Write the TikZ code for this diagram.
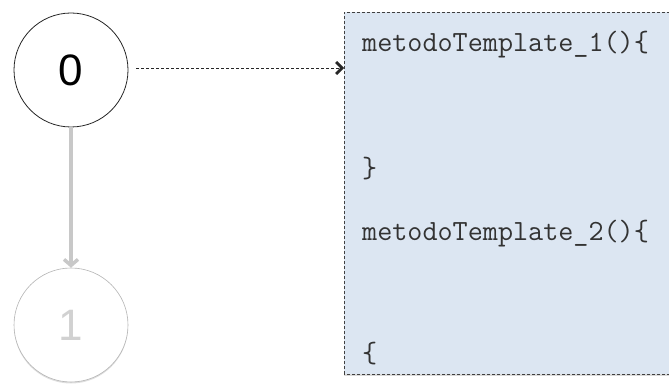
\documentclass[tikz,border=0pt]{standalone}
\usepackage{fontspec}
\setmainfont{Liberation Sans}
\usetikzlibrary{arrows.meta,shadows,calc}
\definecolor{boxfill}{HTML}{DCE6F2}
\definecolor{stepgray}{HTML}{C8C8C8}
\definecolor{fadedgray}{HTML}{B4B4B4}
\tikzset{
  state/.style={circle, minimum size=114pt, inner sep=0pt, fill=white,
    font=\fontsize{44}{44}\selectfont},
  activestate/.style={state, draw=black!85, line width=0.8pt, text=black},
  idlestate/.style={state, draw=fadedgray, line width=0.6pt, text=black!18,
    drop shadow={shadow xshift=0pt, shadow yshift=-1.5pt, opacity=0.25}},
  codeline/.style={anchor=base west, inner sep=0pt, text=black!80,
    font=\ttfamily\fontsize{29.3}{29.3}\selectfont},
  codebox/.style={draw=black!75, dashed, dash pattern=on 3pt off 2pt,
    line width=0.7pt, fill=boxfill,
    drop shadow={shadow xshift=0pt, shadow yshift=-2pt, opacity=0.3}},
}
\begin{document}
\begin{tikzpicture}[x=1pt,y=1pt]
  \useasboundingbox (0,0) rectangle (669,383);
  % code box running off the right edge
  \path[codebox] (344,9) rectangle (700,371);
  \coordinate (boxin) at (344,315);
  \node[codeline] (l1) at (362,331) {metodoTemplate\_1()\{};
  \node[codeline] (l2) at (362,205) {\}};
  \node[codeline] (l3) at (362,142) {metodoTemplate\_2()\{};
  \node[codeline] (l4) at (362,21) {\{};
  % states
  \node[activestate] (s0) at (71,313) {0};
  \node[idlestate] (s1) at (71,58) {1};
  % transitions
  \draw[stepgray, line width=4.5pt,
        -{Straight Barb[length=6pt,width=14pt,line width=3.5pt]}]
    (s0.south) -- (s1.north);
  \draw[black!85, line width=0.8pt, dash pattern=on 3pt off 2pt,
        -{Straight Barb[length=6pt,width=12pt,line width=2.8pt]}]
    (s0.east |- boxin) ++(8,0) -- (boxin);
\end{tikzpicture}
\end{document}
